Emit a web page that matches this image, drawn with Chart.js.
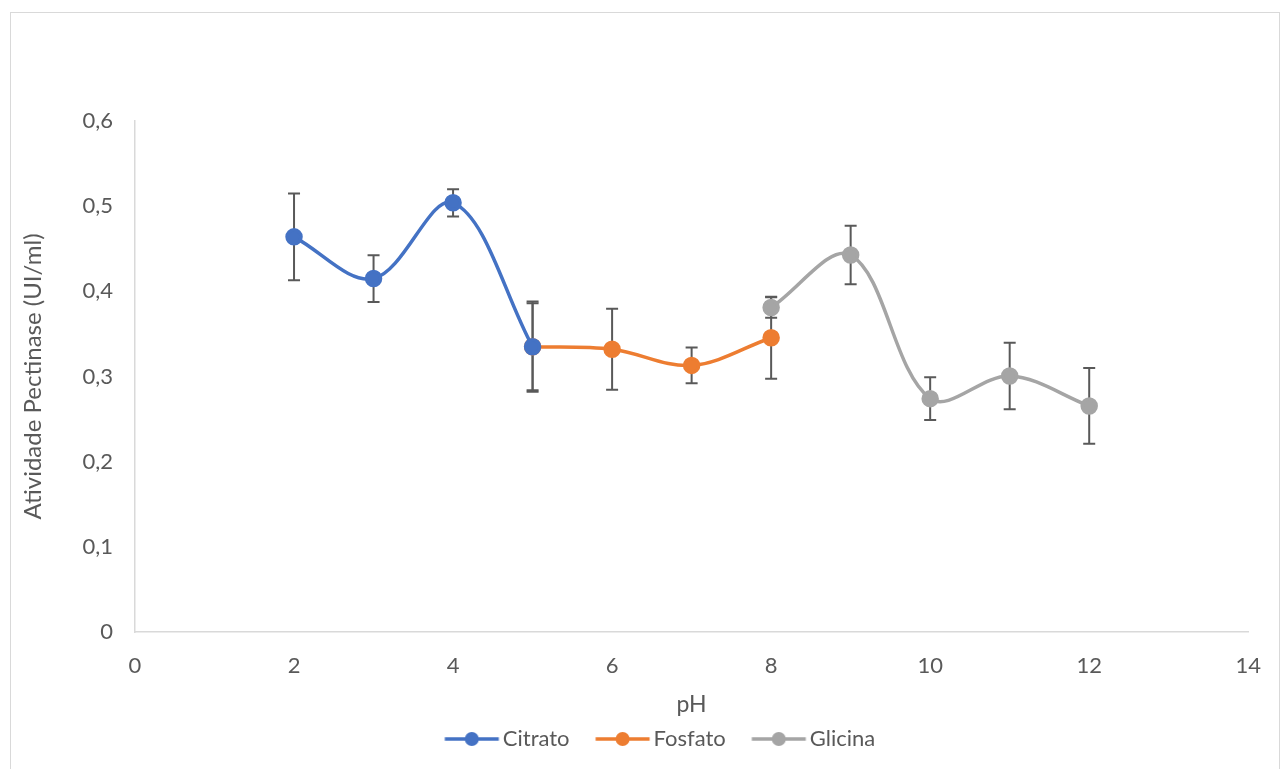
<!DOCTYPE html>
<html>
<head>
<meta charset="utf-8">
<script src="https://cdn.jsdelivr.net/npm/chart.js@4"></script>
<style>
  html, body { margin: 0; padding: 0; background: #fff; }
  #wrap { position: relative; width: 1282px; height: 769px; overflow: hidden; }
  #frame { position: absolute; left: 10px; top: 12px; width: 1270px; height: 800px; border: 1px solid #d9d9d9; box-sizing: border-box; }
  canvas { position: absolute; left: 0; top: 0; }
</style>
</head>
<body>
<div id="wrap">
  <div id="frame"></div>
  <canvas id="chart" width="1282" height="769"></canvas>
</div>
<script>
// pH values and activity (UI/ml) with error bar half-widths, per buffer
const citratoPH = [2, 3, 4, 5];
const citratoVal = [0.464, 0.415, 0.504, 0.335];
const citratoErr = [0.051, 0.0275, 0.016, 0.053];

const fosfatoPH = [5, 6, 7, 8];
const fosfatoVal = [0.335, 0.332, 0.313, 0.3455];
const fosfatoErr = [0.051, 0.0475, 0.021, 0.048];

const glicinaPH = [8, 9, 10, 11, 12];
const glicinaVal = [0.381, 0.4426, 0.274, 0.3006, 0.2654];
const glicinaErr = [0.012, 0.0344, 0.025, 0.039, 0.0445];

const seriesNames = ['Citrato', 'Fosfato', 'Glicina'];
const seriesColors = ['#4472C4', '#ED7D31', '#A5A5A5'];

const FONT = 'Lato, "Open Sans", sans-serif';
const TEXT = '#595959';
const LEGEND_BOX = 63;

function toPoints(xs, ys) {
    return xs.map((x, i) => ({ x: x, y: ys[i] }));
}

function makeDataset(name, color, xs, ys, errs) {
    return {
        label: name,
        data: toPoints(xs, ys),
        errors: errs,
        borderColor: color,
        backgroundColor: color,
        pointBackgroundColor: color,
        pointBorderColor: color,
        borderWidth: 3.5,
        pointRadius: 7,
        pointHoverRadius: 7,
        tension: 0.35,
        fill: false
    };
}

// line + marker legend symbol; the canvas is wider than the legend box so
// the symbol sits right next to the label text, like Excel does
function legendSymbol(color) {
    const c = document.createElement('canvas');
    c.width = 140;
    c.height = 16;
    const ctx = c.getContext('2d');
    const x0 = 70 - LEGEND_BOX / 2 + 16;
    ctx.strokeStyle = color;
    ctx.lineWidth = 3.5;
    ctx.beginPath();
    ctx.moveTo(x0, 8);
    ctx.lineTo(x0 + 54, 8);
    ctx.stroke();
    ctx.fillStyle = color;
    ctx.beginPath();
    ctx.arc(x0 + 27, 8, 7, 0, Math.PI * 2);
    ctx.fill();
    return c;
}

// error bars drawn through the chart scales
const errorBars = {
    id: 'errorBars',
    beforeDatasetsDraw(chart) {
        const ctx = chart.ctx;
        const xs = chart.scales.x;
        const ys = chart.scales.y;
        ctx.save();
        ctx.strokeStyle = '#595959';
        ctx.lineWidth = 2;
        chart.data.datasets.forEach(ds => {
            ds.data.forEach((p, i) => {
                const e = ds.errors[i];
                const px = xs.getPixelForValue(p.x);
                const top = ys.getPixelForValue(p.y + e);
                const bot = ys.getPixelForValue(p.y - e);
                ctx.beginPath();
                ctx.moveTo(px, top);
                ctx.lineTo(px, bot);
                ctx.moveTo(px - 6, top);
                ctx.lineTo(px + 6, top);
                ctx.moveTo(px - 6, bot);
                ctx.lineTo(px + 6, bot);
                ctx.stroke();
            });
        });
        ctx.restore();
    }
};

// nudge the legend a little to the right, where Excel puts it
const legendShift = {
    id: 'legendShift',
    afterLayout(chart) {
        if (chart.legend) {
            chart.legend.left += 20;
            chart.legend.right += 20;
        }
    }
};

const datasets = [
    makeDataset(seriesNames[0], seriesColors[0], citratoPH, citratoVal, citratoErr),
    makeDataset(seriesNames[1], seriesColors[1], fosfatoPH, fosfatoVal, fosfatoErr),
    makeDataset(seriesNames[2], seriesColors[2], glicinaPH, glicinaVal, glicinaErr)
];

new Chart(document.getElementById('chart'), {
    type: 'line',
    data: { datasets: datasets },
    options: {
        responsive: false,
        animation: false,
        events: [],
        layout: { padding: { left: 15, top: 121, right: 33, bottom: 9 } },
        plugins: {
            tooltip: { enabled: false },
            legend: {
                position: 'bottom',
                labels: {
                    usePointStyle: true,
                    pointStyleWidth: LEGEND_BOX,
                    padding: 10,
                    color: TEXT,
                    font: { family: FONT, size: 22 },
                    generateLabels(chart) {
                        return chart.data.datasets.map((ds, i) => ({
                            text: ds.label,
                            pointStyle: legendSymbol(seriesColors[i]),
                            fontColor: TEXT,
                            fillStyle: 'transparent',
                            strokeStyle: 'transparent',
                            lineWidth: 0,
                            hidden: false,
                            datasetIndex: i
                        }));
                    }
                }
            }
        },
        scales: {
            x: {
                type: 'linear',
                min: 0,
                max: 14,
                grid: { display: false, drawTicks: false },
                border: { color: '#d9d9d9', width: 1.5 },
                ticks: {
                    stepSize: 2,
                    padding: 21,
                    color: TEXT,
                    font: { family: FONT, size: 22 },
                    maxRotation: 0
                },
                title: {
                    display: true,
                    text: 'pH',
                    color: TEXT,
                    font: { family: FONT, size: 23 },
                    padding: { top: 0, bottom: 0 }
                },
                afterFit(scale) { scale.height = 86; }
            },
            y: {
                min: 0,
                max: 0.6,
                grid: { display: false, drawTicks: false },
                border: { color: '#d9d9d9', width: 1.5 },
                ticks: {
                    stepSize: 0.1,
                    padding: 22,
                    color: TEXT,
                    font: { family: FONT, size: 22 },
                    callback: v => v === 0 ? '0' : v.toFixed(1).replace('.', ',')
                },
                title: {
                    display: true,
                    text: 'Atividade Pectinase (UI/ml)',
                    color: TEXT,
                    font: { family: FONT, size: 24 },
                    padding: { top: 4, bottom: 4 }
                },
                afterFit(scale) { scale.width = 120; }
            }
        }
    },
    plugins: [errorBars, legendShift]
});
</script>
</body>
</html>
